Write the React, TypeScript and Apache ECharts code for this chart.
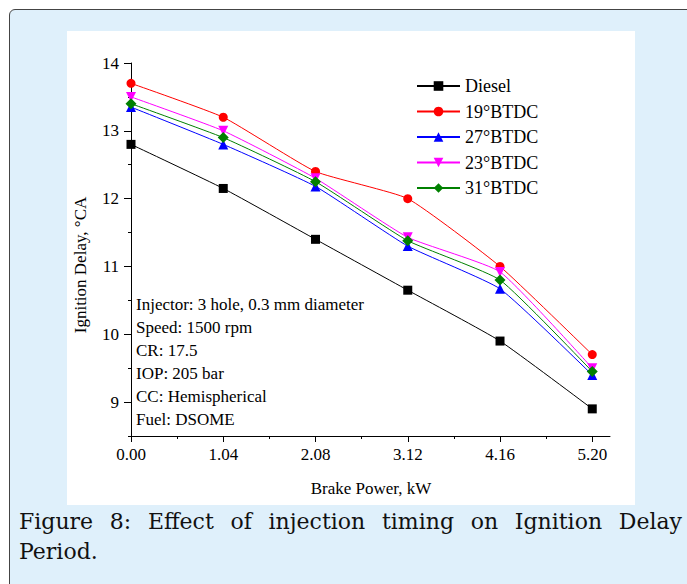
import React, { useEffect, useRef } from "react";
import * as echarts from "echarts";

const power = [0, 1.04, 2.08, 3.12, 4.16, 5.2];
const minorX = [0.52, 1.56, 2.6, 3.64, 4.68];
const yMajor = [9, 10, 11, 12, 13, 14];
const yMinor = [8.5, 9.5, 10.5, 11.5, 12.5, 13.5];

const diesel = [12.8, 12.15, 11.4, 10.65, 9.9, 8.9];
const btdc19 = [13.7, 13.2, 12.4, 12.0, 11.0, 9.7];
const btdc27 = [13.35, 12.8, 12.18, 11.3, 10.67, 9.4];
const btdc23 = [13.5, 13.0, 12.3, 11.43, 10.92, 9.5];
const btdc31 = [13.4, 12.9, 12.25, 11.38, 10.8, 9.45];

const seriesNames = ["Diesel", "19°BTDC", "27°BTDC", "23°BTDC", "31°BTDC"];
const seriesValues = [diesel, btdc19, btdc27, btdc23, btdc31];
const seriesColors = ["#000000", "#ff0000", "#0000ff", "#ff00ff", "#008000"];
const seriesSymbols = ["rect", "circle", "triangle", "triangle", "diamond"];
const seriesRotate = [0, 0, 0, 180, 0];
const seriesSizes = [9, 9, 10, 10, 11];

const notes = [
  "Injector: 3 hole, 0.3 mm diameter",
  "Speed: 1500 rpm",
  "CR: 17.5",
  "IOP: 205 bar",
  "CC: Hemispherical",
  "Fuel: DSOME",
];

const FONT = "'Liberation Serif', 'Times New Roman', serif";

export default function App() {
  const ref = useRef<HTMLDivElement>(null);
  useEffect(() => {
    if (!ref.current) return;
    const chart = echarts.init(ref.current, null, { renderer: "svg" });
    const gridLeft = 64;
    const gridTop = 32;
    const gridW = 479;
    const gridH = 373;
    const axisBase = {
      type: "value" as const,
      splitLine: { show: false },
    };
    chart.setOption({
      animation: false,
      backgroundColor: "transparent",
      grid: { left: gridLeft, top: gridTop, width: gridW, height: gridH, containLabel: false },
      xAxis: [
        {
          ...axisBase,
          min: 0,
          max: 5.4,
          position: "bottom",
          axisLine: { show: true, lineStyle: { color: "#000", width: 1 } },
          axisTick: { show: true, customValues: power, length: 6, lineStyle: { color: "#000" } },
          axisLabel: {
            customValues: power,
            formatter: (v: number) => (power.some((p) => Math.abs(p - v) < 1e-6) ? v.toFixed(2) : ""),
            fontFamily: FONT,
            fontSize: 17,
            color: "#000",
            margin: 10,
          },
        },
        {
          ...axisBase,
          min: 0,
          max: 5.4,
          position: "bottom",
          axisLine: { show: false },
          axisTick: { show: true, customValues: minorX, length: 3, lineStyle: { color: "#000" } },
          axisLabel: { show: false },
        },
      ],
      yAxis: [
        {
          ...axisBase,
          min: 8.5,
          max: 14,
          position: "left",
          axisLine: { show: true, lineStyle: { color: "#000", width: 1 } },
          axisTick: { show: true, customValues: yMajor, length: 7, lineStyle: { color: "#000" } },
          axisLabel: {
            customValues: yMajor,
            formatter: (v: number) => (yMajor.some((p) => Math.abs(p - v) < 1e-6) ? String(v) : ""),
            fontFamily: FONT,
            fontSize: 17,
            color: "#000",
            margin: 12,
          },
        },
        {
          ...axisBase,
          min: 8.5,
          max: 14,
          position: "left",
          axisLine: { show: false },
          axisTick: { show: true, customValues: yMinor, length: 3, lineStyle: { color: "#000" } },
          axisLabel: { show: false },
        },
      ],
      legend: {
        orient: "vertical",
        left: 344,
        top: 41,
        itemWidth: 43,
        itemHeight: 12,
        itemGap: 7.5,
        data: seriesNames,
        textStyle: { fontFamily: FONT, fontSize: 18, color: "#000" },
      },
      graphic: [
        {
          type: "text",
          left: 69,
          top: 262,
          style: {
            text: notes.join("\n"),
            font: `17px ${FONT}`,
            lineHeight: 23,
            fill: "#000",
          },
        },
        {
          type: "text",
          x: 13,
          y: 234,
          rotation: Math.PI / 2,
          style: {
            text: "Ignition Delay, °CA",
            font: `17px ${FONT}`,
            fill: "#000",
            align: "center",
            verticalAlign: "middle",
          },
        },
        {
          type: "text",
          x: 304,
          y: 457,
          style: {
            text: "Brake Power, kW",
            font: `17px ${FONT}`,
            fill: "#000",
            align: "center",
            verticalAlign: "middle",
          },
        },
      ],
      series: seriesNames.map((name, i) => ({
        name,
        type: "line",
        xAxisIndex: 0,
        yAxisIndex: 0,
        data: power.map((x, j) => [x, seriesValues[i][j]]),
        smooth: 0.15,
        symbol: seriesSymbols[i],
        symbolRotate: seriesRotate[i],
        symbolSize: seriesSizes[i],
        showAllSymbol: true,
        lineStyle: { color: seriesColors[i], width: 1 },
        itemStyle: { color: seriesColors[i] },
      })),
    });
    return () => chart.dispose();
  }, []);

  return (
    <div
      style={{
        position: "fixed",
        left: 9,
        top: 9,
        width: 700,
        height: 600,
        background: "#dff0fb",
        border: "1px solid #444",
        borderRadius: 6,
        boxSizing: "border-box",
      }}
    >
      <div style={{ position: "absolute", left: 57, top: 21, width: 568, height: 474, background: "#fff" }}>
        <div ref={ref} style={{ width: 568, height: 474 }} />
      </div>
      <div
        style={{
          position: "absolute",
          left: 9,
          top: 497,
          width: 663,
          fontFamily: "'DejaVu Serif', serif",
          fontSize: 22,
          lineHeight: "30px",
          textAlign: "justify",
          color: "#111",
        }}
      >
        Figure 8: Effect of injection timing on Ignition Delay Period.
      </div>
    </div>
  );
}
